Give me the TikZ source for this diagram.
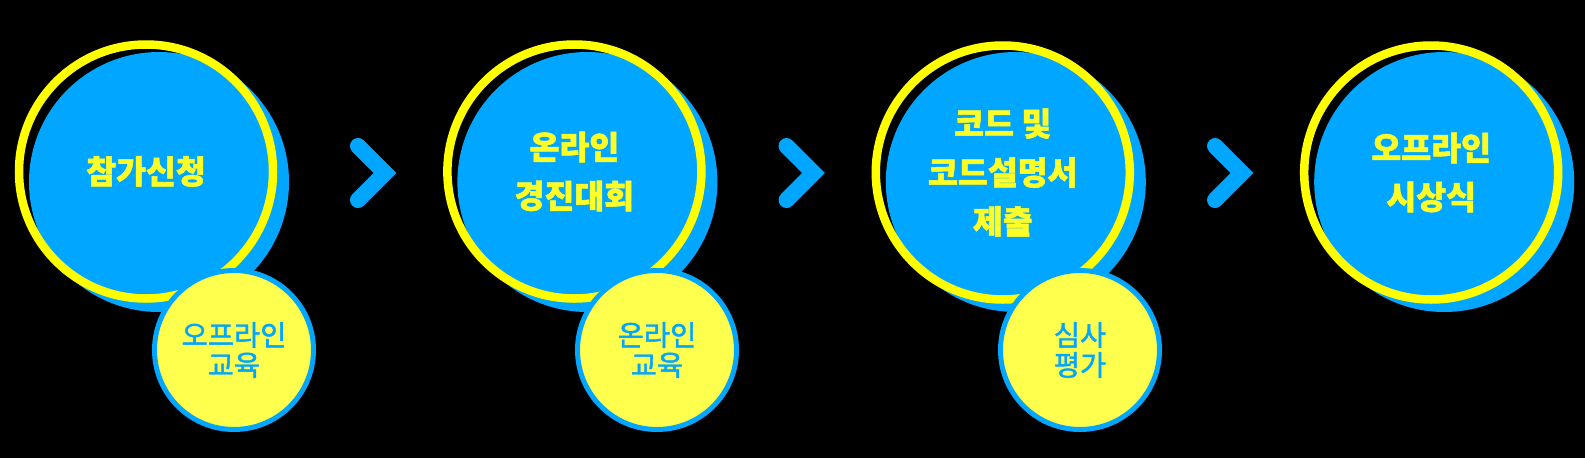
\documentclass[tikz,border=0pt]{standalone}
\usepackage{fontspec}
\newfontfamily\krb[BoldFeatures={FakeBold=1.6}]{Noto Sans CJK KR}
\newfontfamily\krm[FakeBold=1.4]{Noto Sans CJK KR}
\definecolor{cblue}{RGB}{0,166,255}
\definecolor{cyel}{RGB}{255,255,0}
\definecolor{cyelfill}{RGB}{255,255,77}
\definecolor{ctext}{RGB}{255,255,40}
\begin{document}
\begin{tikzpicture}[x=1pt,y=-1pt,
  shadowc/.style={circle,fill=cblue,minimum size=260pt,inner sep=0pt},
  ringc/.style={circle,draw=cyel,line width=8.5pt,minimum size=254pt,inner sep=0pt,
    font=\krb\bfseries\fontsize{32.5}{49}\selectfont,text=ctext,align=center},
  smallc/.style={circle,draw=cblue,fill=cyelfill,line width=5pt,minimum size=159pt,inner sep=0pt,
    font=\krm\fontsize{28.5}{30}\selectfont,text=cblue,align=center},
  chev/.style={draw=cblue,line width=16pt,line cap=round,line join=miter}
]
\fill[black] (0,0) rectangle (1585,458);
\useasboundingbox (0,0) rectangle (1585,458);

% step 1
\node[shadowc] (s1) at (159,182) {};
\node[ringc] (r1) at (146,171.5) {참가신청};
\node[smallc] (e1) at (234,350) {오프라인\\교육};

% step 2
\node[shadowc] (s2) at (587.4,182) {};
\node[ringc] (r2) at (574.4,171.5) {온라인\\경진대회};
\node[smallc] (e2) at (657,350) {온라인\\교육};

% step 3
\node[shadowc] (s3) at (1015.8,182) {};
\node[ringc] (r3) at (1002.8,172.5) {코드 및\\코드설명서\\제출};
\node[smallc] (e3) at (1080,350) {심사\\평가};

% step 4
\node[shadowc] (s4) at (1444.2,182) {};
\node[ringc] (r4) at (1431.2,172.5) {오프라인\\시상식};

% chevrons
\coordinate (a1t) at (358,146); \coordinate (a1v) at (385,173); \coordinate (a1b) at (358,200);
\coordinate (a2t) at (786.5,146); \coordinate (a2v) at (813.5,173); \coordinate (a2b) at (786.5,200);
\coordinate (a3t) at (1215,146); \coordinate (a3v) at (1242,173); \coordinate (a3b) at (1215,200);
\draw[chev] (a1t) -- (a1v) -- (a1b);
\draw[chev] (a2t) -- (a2v) -- (a2b);
\draw[chev] (a3t) -- (a3v) -- (a3b);
\end{tikzpicture}
\end{document}
